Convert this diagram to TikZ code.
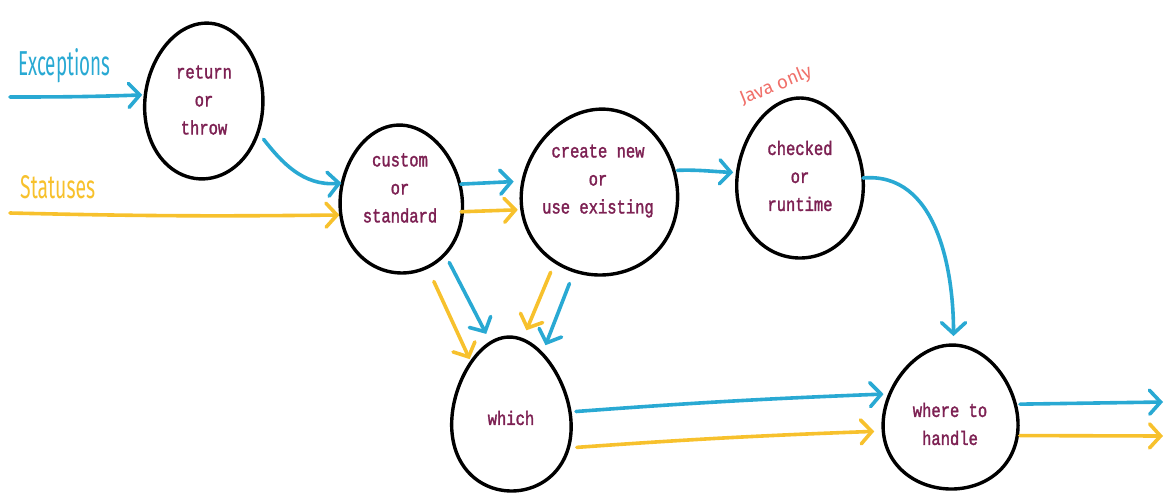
\documentclass[tikz,border=0pt]{standalone}
\usepackage{fontspec}
\usepackage{graphicx}
\usetikzlibrary{arrows.meta,shapes.geometric}
\newfontfamily\codefont[FakeBold=2]{Liberation Mono}
\newfontfamily\handfont{Fira Sans}
\definecolor{flowblue}{HTML}{29A9D3}
\definecolor{flowyellow}{HTML}{F7C12D}
\definecolor{stepink}{HTML}{7D2153}
\definecolor{notered}{HTML}{F0706A}
\tikzset{
  egg/.style={ellipse, draw=none, inner sep=-40pt, outer sep=0pt},
  eggline/.style={draw=black, line width=3.4pt, line join=round},
  steptext/.style={font=\codefont\fontsize{15.5}{22.4}\selectfont, text=stepink,
    align=center, inner sep=0pt, yscale=1.25, transform shape},
  flow/.style={line width=3.6pt, line cap=round, line join=round,
    -{Straight Barb[length=11pt,width=24pt,line cap=round]}},
  bflow/.style={flow, draw=flowblue},
  yflow/.style={flow, draw=flowyellow},
  hand/.style={font=\handfont, inner sep=0pt},
}
% egg outline round a node: #1 node, #2 half width, #3 half height,
% #4 narrowing of the top, #5 tilt in degrees
\newcommand\eggaround[5]{%
  \draw[eggline, shift={(#1.center)}, rotate=#5]
    plot[domain=0:360, samples=90, smooth cycle]
    ({#2*cos(\x)*(1-#4*sin(\x))}, {#3*sin(\x)});}
\begin{document}
\begin{tikzpicture}[x=1pt,y=1pt]
\useasboundingbox (0,0) rectangle (1166,-493);

% decision eggs
\node[egg, minimum width=118pt, minimum height=156pt] (ret) at (204,-101) {};
\node[egg, minimum width=122pt, minimum height=148pt] (cus) at (401,-199) {};
\node[egg, minimum width=156pt, minimum height=166pt] (cre) at (600,-192) {};
\node[egg, minimum width=126pt, minimum height=160pt] (chk) at (800,-178) {};
\node[egg, minimum width=118pt, minimum height=154pt] (whi) at (511,-414) {};
\node[egg, minimum width=134pt, minimum height=144pt] (whe) at (951,-417) {};
\eggaround{ret}{59}{78}{0.04}{-4}
\eggaround{cus}{61}{74}{0.08}{3}
\eggaround{cre}{78}{83}{0.07}{-6}
\eggaround{chk}{63}{80}{0.10}{0}
\eggaround{whi}{59}{77}{0.16}{2}
\eggaround{whe}{67}{72}{0.12}{-3}

% their questions
\node[steptext] (ret-t) at (204,-100) {return\\or\\throw};
\node[steptext] (cus-t) at (400,-188) {custom\\or\\standard};
\node[steptext] (cre-t) at (598,-181) {create new\\or\\use existing};
\node[steptext] (chk-t) at (800,-176) {checked\\or\\runtime};
\node[steptext] (whi-t) at (511,-418) {which};
\node[steptext] (whe-t) at (950,-424) {where to\\handle};

% hand-written notes
\node[hand, text=flowblue, anchor=base west] (exc-l) at (18,-75) {\resizebox{92pt}{27pt}{Exceptions}};
\node[hand, text=flowyellow, anchor=base west] (sta-l) at (20,-198) {\resizebox{75pt}{23pt}{Statuses}};
\node[hand, text=notered, rotate=22] (java-l) at (776,-86) {\resizebox{76pt}{14pt}{Java only}};

% loose ends
\coordinate (exc-in) at (10,-97);
\coordinate (sta-in) at (10,-213);
\coordinate (exc-out) at (1163,-402);
\coordinate (sta-out) at (1163,-436);

% exceptions path
\draw[bflow, shorten >=3pt] (exc-in) to[out=0,in=182] (ret.174);
\draw[bflow, shorten <=9pt] (ret.-30) to[out=-52,in=185] (cus.165);
\draw[bflow, shorten >=9pt] (cus.14) -- (cre.172);
\draw[bflow, shorten >=4pt, shorten <=2pt] (cre.16) to[out=2,in=178] (chk.175);
\draw[bflow, shorten >=9pt] (chk.0) to[out=5,in=90] (whe.88);
\draw[bflow, shorten <=12pt, shorten >=9pt] (cus.-51) -- (whi.106);
\draw[bflow, shorten <=14pt, shorten >=5pt] (cre.-108) -- (whi.63);
\draw[bflow, shorten <=6pt, shorten >=4pt] (whi.2) to[bend left=1] (whe.160);
\draw[bflow, shorten <=3pt] (whe.11) -- (exc-out);

% statuses path
\draw[yflow, shorten >=2pt] (sta-in) to[bend right=1] (cus.195);
\draw[yflow, shorten >=6pt] (cus.-12) -- (cre.193);
\draw[yflow, shorten <=17pt] (cus.-69) -- (whi.127);
\draw[yflow, shorten <=13pt, shorten >=9pt] (cre.-123) -- (whi.81);
\draw[yflow, shorten <=13pt, shorten >=11pt] (whi.-33) to[bend left=1] (whe.192);
\draw[yflow, shorten <=4pt] (whe.-16) -- (sta-out);
\end{tikzpicture}
\end{document}
